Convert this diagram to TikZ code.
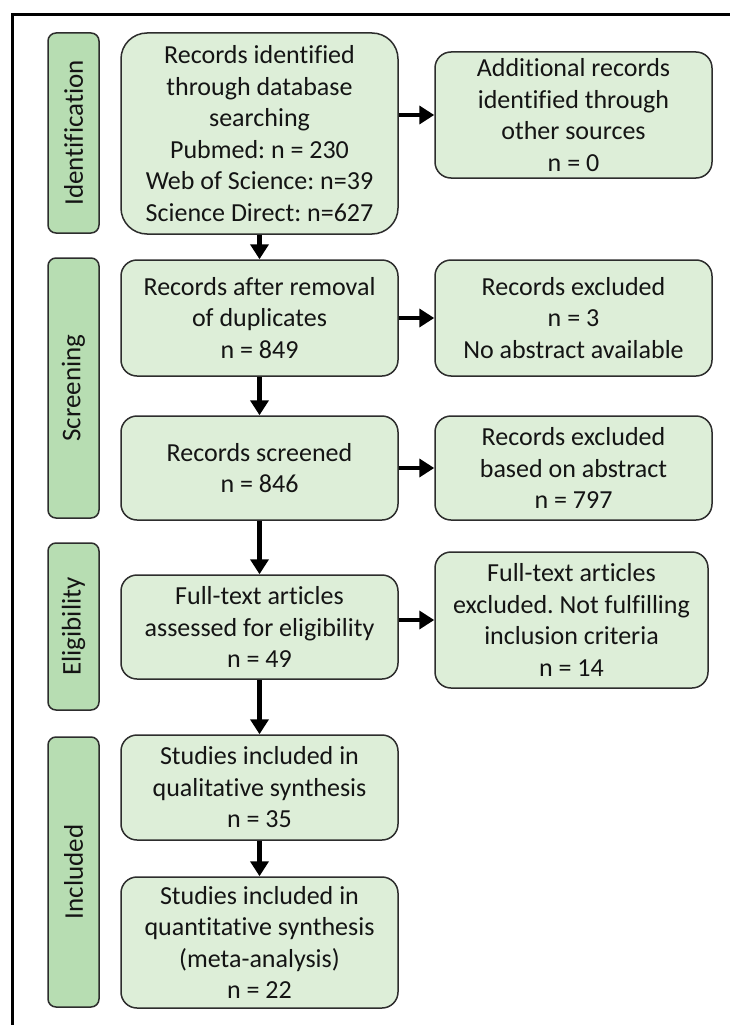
\documentclass[tikz,border=0pt]{standalone}
\usepackage{fontspec}
\setmainfont{Carlito}[Ligatures=NoCommon]
\frenchspacing
\usetikzlibrary{arrows.meta}
\definecolor{boxfill}{RGB}{221,238,216}
\definecolor{labfill}{RGB}{183,221,178}
\definecolor{edge}{RGB}{45,45,45}
\definecolor{txt}{RGB}{20,20,20}
\tikzset{
  box/.style={draw=edge, fill=boxfill, line width=1.5pt, rounded corners=16pt,
    align=center, inner sep=0pt, text=txt, font=\fontsize{26}{31.5}\selectfont},
  bigbox/.style={box, rounded corners=26pt},
  lab/.style={draw=edge, fill=labfill, line width=1.5pt, rounded corners=8pt,
    rotate=90, inner sep=0pt, minimum height=51pt, text=txt,
    font=\fontsize{27}{30}\selectfont},
  arr/.style={line width=4.5pt, -{Triangle[width=18pt,length=15pt]}, draw=black}
}
\begin{document}
\begin{tikzpicture}[x=1pt,y=-1pt]
\useasboundingbox (0,0) rectangle (729,1025);
\fill[white] (0,0) rectangle (729,1025);
% frame
\draw[line width=3pt] (12.5,1026) -- (12.5,14.5) -- (730,14.5);
% stage labels
\node[lab, minimum width=200pt] (l1) at (73.5,133) {Identification};
\node[lab, minimum width=260pt] (l2) at (73.5,388) {Screening};
\node[lab, minimum width=167pt] (l3) at (73.5,626.5) {Eligibility};
\node[lab, minimum width=270pt] (l4) at (73.5,872) {Included};
% main column
\node[bigbox, minimum width=277pt, minimum height=201pt] (b1) at (259.5,133.5)
  {Records identified\\through database\\searching\\Pubmed: n = 230\\Web of Science: n=39\\Science Direct: n=627};
\node[box, minimum width=277pt, minimum height=116pt] (b2) at (259.5,318)
  {Records after removal\\of duplicates\\n = 849};
\node[box, minimum width=277pt, minimum height=104pt] (b3) at (259.5,468)
  {Records screened\\n = 846};
\node[box, minimum width=277pt, minimum height=104pt] (b4) at (259.5,627)
  {Full-text articles\\assessed for eligibility\\n = 49};
\node[box, minimum width=277pt, minimum height=105pt] (b5) at (259.5,787.5)
  {Studies included in\\qualitative synthesis\\n = 35};
\node[box, minimum width=277pt, minimum height=131pt] (b6) at (259.5,942.5)
  {Studies included in\\quantitative synthesis\\(meta-analysis)\\n = 22};
% right column
\node[box, minimum width=277pt, minimum height=126pt] (r1) at (573.5,115)
  {Additional records\\identified through\\other sources\\n = 0};
\node[box, minimum width=277pt, minimum height=116pt] (r2) at (573.5,318)
  {Records excluded\\n = 3\\No abstract available};
\node[box, minimum width=277pt, minimum height=104pt] (r3) at (573.5,468)
  {Records excluded\\based on abstract\\n = 797};
\node[box, minimum width=273pt, minimum height=136pt] (r4) at (571.5,620)
  {Full-text articles\\excluded. Not fulfilling\\inclusion criteria\\n = 14};
% vertical arrows
\draw[arr] (b1.south) -- (b2.north);
\draw[arr] (b2.south) -- (b3.north);
\draw[arr] (b3.south) -- (b4.north);
\draw[arr] (b4.south) -- (b5.north);
\draw[arr] (b5.south) -- (b6.north);
% horizontal arrows
\draw[arr] (r1.west -| b1.east) -- (r1.west);
\draw[arr] (r2.west -| b2.east) -- (r2.west);
\draw[arr] (r3.west -| b3.east) -- (r3.west);
\draw[arr] (r4.west -| b4.east) -- (r4.west);
\end{tikzpicture}
\end{document}
